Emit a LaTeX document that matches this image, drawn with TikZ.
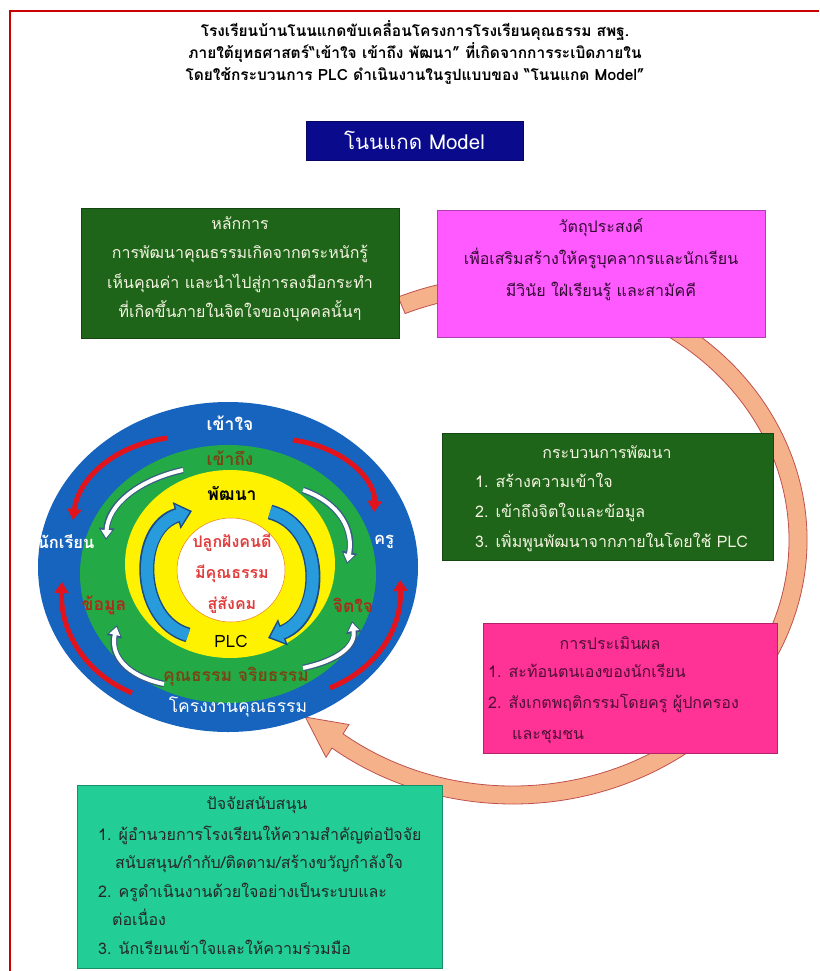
\documentclass[tikz,border=0pt]{standalone}
\usepackage{fontspec}
\setmainfont[Script=Thai]{Loma}
\usetikzlibrary{arrows.meta,calc}
\definecolor{navybox}{RGB}{10,10,140}
\definecolor{dkgreen}{RGB}{30,100,25}
\definecolor{magbox}{RGB}{255,90,255}
\definecolor{pinkbox}{RGB}{255,50,150}
\definecolor{tealbox}{RGB}{35,205,150}
\definecolor{ringblue}{RGB}{22,100,190}
\definecolor{ringgreen}{RGB}{35,170,70}
\definecolor{ringyellow}{RGB}{255,242,0}
\definecolor{arrowtan}{RGB}{245,178,138}
\definecolor{arrowline}{RGB}{192,80,77}
\definecolor{borderred}{RGB}{200,0,0}
\definecolor{lighttxt}{RGB}{245,245,225}
\definecolor{purtxt}{RGB}{50,10,50}
\definecolor{marotxt}{RGB}{80,15,55}
\definecolor{brownred}{RGB}{170,45,25}
\definecolor{olivebrown}{RGB}{120,70,20}
\definecolor{innerred}{RGB}{225,60,60}
\definecolor{redarrow}{RGB}{225,20,30}
\definecolor{bluefill}{RGB}{40,155,220}
\definecolor{blueline}{RGB}{25,75,135}
\tikzset{
  boxshape/.style={draw=#1!70!black, line width=0.6pt, fill=#1, inner sep=0pt},
  txt/.style={inner sep=0pt, font=\fontsize{16}{16}\selectfont},
  ctxt/.style={inner sep=0pt, font=\fontsize{17.5}{17.5}\selectfont\bfseries},
  redarr/.style={draw=redarrow, line width=5pt, -{Triangle[length=11pt,width=14pt]}},
}
\newcommand\whitearr[1]{%
  \draw[line width=6.5pt, draw=blueline!70!gray, -{Triangle[length=12pt,width=15pt]}] #1;
  \draw[line width=4pt, draw=white, shorten >=2pt, -{Triangle[length=8pt,width=10.5pt]}] #1;}
\newcommand\bluearr[1]{%
  \draw[line width=15pt, draw=blueline, -{Triangle[length=16pt,width=27pt]}] #1;
  \draw[line width=12pt, draw=bluefill, shorten >=2.5pt, -{Triangle[length=12pt,width=21pt]}] #1;}
\begin{document}
\begin{tikzpicture}[x=1pt,y=-1pt]
\useasboundingbox (0,0) rectangle (819,971);
\fill[white] (0,0) rectangle (819,971);
% frame
\draw[borderred, line width=2.2pt] (10,971) -- (10,11) -- (819,11);

% title
\node[inner sep=0pt, align=center, font=\fontsize{15.5}{22}\selectfont\bfseries] (title) at (415,52)
 {โรงเรียนบ้านโนนแกดขับเคลื่อนโครงการโรงเรียนคุณธรรม สพฐ.\\
  ภายใต้ยุทธศาสตร์“เข้าใจ เข้าถึง พัฒนา” ที่เกิดจากการระเบิดภายใน\\
  โดยใช้กระบวนการ PLC ดำเนินงานในรูปแบบของ “โนนแกด Model”};
\node[boxshape=navybox, minimum width=217pt, minimum height=39pt, text=white,
      font=\fontsize{20.5}{20.5}\selectfont] (model) at (414.5,140.5) {โนนแกด Model};

% big cycle arrow
\coordinate (C) at (513,540);
\filldraw[fill=arrowtan, draw=arrowline, line width=0.8pt]
  ($(C)+(-113:294 and 264)$) arc[start angle=-113, end angle=128, x radius=294, y radius=264]
  -- (326.0,757.3) -- (305.4,717.1) -- (349.0,724.5)
  -- ($(C)+(128:276 and 246)$) arc[start angle=128, end angle=-113, x radius=276, y radius=246]
  -- cycle;

% rings
\fill[ringblue] (228,567) ellipse [x radius=190, y radius=165];
\fill[ringgreen] (228,574) ellipse [x radius=148, y radius=129];
\fill[ringyellow] (230,564) ellipse [x radius=105, y radius=94];
\filldraw[fill=white, draw=orange!70!brown, line width=0.5pt] (231,570) ellipse [x radius=54, y radius=52];

% red arrows (blue ring)
\draw[redarr] (167,438) .. controls (112,446) and (78,480) .. (73,520);
\draw[redarr] (293,440) .. controls (348,448) and (376,482) .. (374,512);
\draw[redarr] (132,693) .. controls (82,672) and (60,628) .. (62,582);
\draw[redarr] (330,688) .. controls (378,668) and (402,628) .. (400,580);
% white arrows (green ring)
\whitearr{(183,470) .. controls (138,480) and (108,505) .. (106,540)}
\whitearr{(303,490) .. controls (340,503) and (354,530) .. (347,564)}
\whitearr{(164,684) .. controls (126,676) and (110,655) .. (117,625)}
\whitearr{(303,668) .. controls (340,660) and (356,645) .. (352,621)}
% blue arrows (yellow ring)
\bluearr{(188,635) .. controls (136,620) and (134,528) .. (192,511)}
\bluearr{(270,512) .. controls (324,526) and (326,616) .. (268,638)}

% ring labels
\node[ctxt, text=white] (khaochai) at (230,423) {เข้าใจ};
\node[ctxt, text=olivebrown] (khaothueng) at (230,458) {เข้าถึง};
\node[ctxt, text=black] (phatthana) at (232,493) {พัฒนา};
\node[ctxt, text=white, font=\fontsize{16.5}{16.5}\selectfont\bfseries] (nakrian) at (66,542) {นักเรียน};
\node[ctxt, text=white, font=\fontsize{16.5}{16.5}\selectfont\bfseries] (khru) at (384,542) {ครู};
\node[ctxt, text=innerred, align=center, font=\fontsize{16}{31}\selectfont\bfseries] (core) at (232,574)
  {ปลูกฝังคนดี\\มีคุณธรรม\\สู่สังคม};
\node[ctxt, text=brownred] (khomun) at (104,605) {ข้อมูล};
\node[ctxt, text=brownred] (chitchai) at (353,605) {จิตใจ};
\node[ctxt, text=black, font=\fontsize{17}{17}\selectfont] (plc) at (231,641) {PLC};
\node[ctxt, text=olivebrown] (khunatham) at (236,677) {คุณธรรม จริยธรรม};
\node[ctxt, text=white, font=\fontsize{17.5}{17.5}\selectfont] (khrongngan) at (238,707) {โครงงานคุณธรรม};

% boxes
\node[boxshape=dkgreen, minimum width=318pt, minimum height=130pt] (lakkan) at (240,273) {};
\node[txt, text=lighttxt, align=center, font=\fontsize{16}{29.5}\selectfont] (lakkantxt) at (240,269)
  {หลักการ\\การพัฒนาคุณธรรมเกิดจากตระหนักรู้\\เห็นคุณค่า และนำไปสู่การลงมือกระทำ\\ที่เกิดขึ้นภายในจิตใจของบุคคลนั้นๆ};

\node[boxshape=magbox, minimum width=328pt, minimum height=127pt] (wat) at (601,273.5) {};
\node[txt, text=purtxt, align=center, font=\fontsize{16}{32}\selectfont] (wattxt) at (601,260)
  {วัตถุประสงค์\\เพื่อเสริมสร้างให้ครูบุคลากรและนักเรียน\\มีวินัย ใฝ่เรียนรู้ และสามัคคี};

\node[boxshape=dkgreen, minimum width=331pt, minimum height=127pt] (krabuan) at (607.5,496.5) {};
\node[txt, text=lighttxt] (krabuant) at (607,452) {กระบวนการพัฒนา};
\node[txt, text=lighttxt, align=left, anchor=west, font=\fontsize{16}{30}\selectfont] (krabuanl) at (475,512)
  {1. สร้างความเข้าใจ\\2. เข้าถึงจิตใจและข้อมูล\\3. เพิ่มพูนพัฒนาจากภายในโดยใช้ PLC};

\node[boxshape=pinkbox, minimum width=294pt, minimum height=130pt] (pramoen) at (630,688) {};
\node[txt, text=marotxt] (pramoent) at (610,643) {การประเมินผล};
\node[txt, text=marotxt, align=left, anchor=west, font=\fontsize{16}{31}\selectfont] (pramoenl) at (488,704)
  {1. สะท้อนตนเองของนักเรียน\\2. สังเกตพฤติกรรมโดยครู ผู้ปกครอง\\\hspace*{24pt}และชุมชน};

\node[boxshape=tealbox, minimum width=365pt, minimum height=183pt] (patchai) at (259.5,876.5) {};
\node[txt, text=black!85] (patchait) at (257,805) {ปัจจัยสนับสนุน};
\node[txt, text=black!85, align=left, anchor=west, font=\fontsize{16}{28.5}\selectfont] (patchail) at (98,890)
  {1. ผู้อำนวยการโรงเรียนให้ความสำคัญต่อปัจจัย\\
   \hspace*{17pt}สนับสนุน/กำกับ/ติดตาม/สร้างขวัญกำลังใจ\\
   2. ครูดำเนินงานด้วยใจอย่างเป็นระบบและ\\
   \hspace*{14pt}ต่อเนื่อง\\
   3. นักเรียนเข้าใจและให้ความร่วมมือ};
\end{tikzpicture}
\end{document}
